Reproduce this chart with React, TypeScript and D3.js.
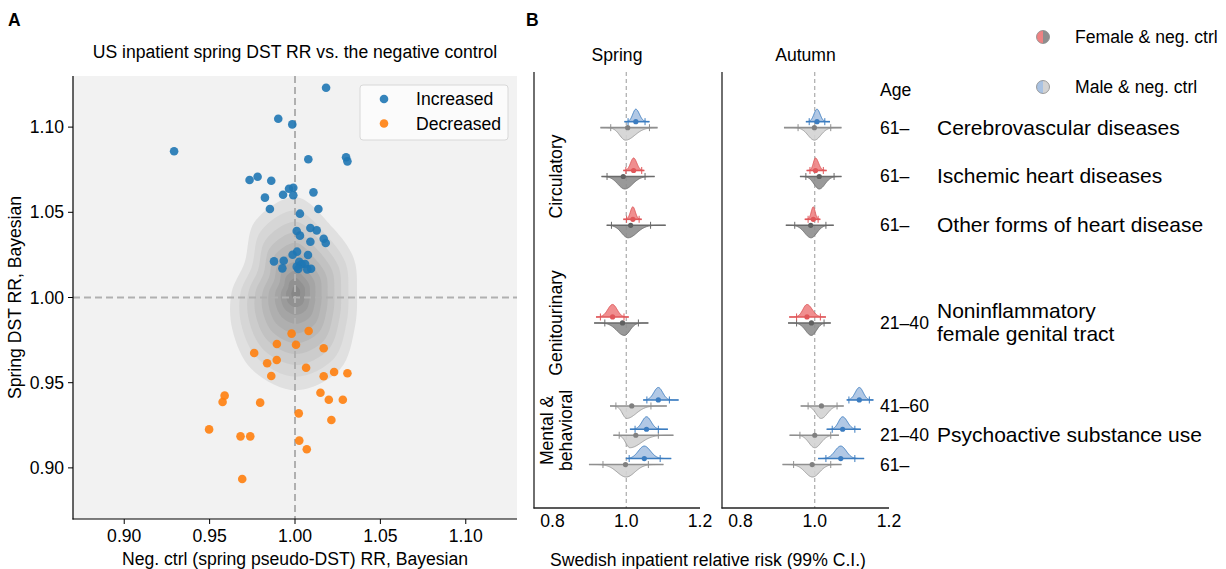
import React from 'react';
import * as d3 from 'd3';

const FONT = '"Liberation Sans", Arial, Helvetica, sans-serif';
const FS = 17.6;

// ---------- Panel A data ----------
const increasedX = [1.0182, 0.9902, 0.9984, 0.9292, 1.0078, 1.0299, 1.0307, 0.9734, 0.9781, 0.9861, 0.9965, 0.999, 0.993, 0.999, 0.9824, 1.0108, 0.9853, 1.0137, 1.0029, 1.001, 1.0029, 1.009, 1.0127, 1.009, 1.0168, 1.018, 1.0012, 0.9986, 1.0076, 0.9877, 0.9934, 0.9926, 1.0025, 1.001, 1.0039, 1.0059, 1.0019, 1.0072, 1.0094];
const increasedY = [1.1231, 1.1049, 1.1016, 1.0858, 1.0811, 1.0823, 1.0799, 1.069, 1.0709, 1.0685, 1.0638, 1.0644, 1.0603, 1.06, 1.0586, 1.0617, 1.0519, 1.0519, 1.0492, 1.039, 1.0363, 1.0408, 1.0394, 1.0327, 1.0345, 1.032, 1.0269, 1.0251, 1.0249, 1.0212, 1.0216, 1.0171, 1.021, 1.0181, 1.0195, 1.0197, 1.0167, 1.0165, 1.0169];
const decreasedX = [0.998, 1.008, 0.9894, 1.0006, 1.0168, 0.9761, 0.9837, 0.9893, 0.9861, 1.0065, 1.0168, 1.0229, 1.0307, 0.9588, 0.9576, 0.9796, 1.0149, 1.0198, 1.028, 1.0022, 1.0213, 0.9497, 0.9681, 0.9738, 1.0025, 1.0069, 0.9691];
const decreasedY = [0.9788, 0.9803, 0.9727, 0.9723, 0.9702, 0.9674, 0.9614, 0.9633, 0.9539, 0.9588, 0.9538, 0.9563, 0.9555, 0.9424, 0.9387, 0.9383, 0.9441, 0.94, 0.94, 0.932, 0.9281, 0.9226, 0.9185, 0.9185, 0.916, 0.9109, 0.8935];
const ticksA = [0.9, 0.95, 1.0, 1.05, 1.1];
const legendA = ['Increased', 'Decreased'];

// density contour outline: polar radii around a centre
const kdeCenter = [1.0005, 1.003];
const kdeAngles = [0, 30, 60, 90, 120, 150, 180, 210, 240, 270, 300, 330];
const kdeOuterRadii = [0.0358, 0.0393, 0.0436, 0.056, 0.048, 0.0347, 0.0376, 0.043, 0.052, 0.0575, 0.052, 0.04];
const kdeLevelScales = [1, 0.86, 0.74, 0.63, 0.52, 0.42, 0.32, 0.23, 0.15, 0.07];

// ---------- Panel B data ----------
const seasons = ['Spring', 'Autumn'];
const rowPos = [0, 1, 2, 4, 5.7, 6.3, 6.9];
const rowSex = ['M', 'F', 'F', 'F', 'M', 'M', 'M'];
const ageLabels = ['61–', '61–', '61–', '21–40', '41–60', '21–40', '61–'];
const diseaseLabels = [
  { pos: 0, lines: ['Cerebrovascular diseases'] },
  { pos: 1, lines: ['Ischemic heart diseases'] },
  { pos: 2, lines: ['Other forms of heart disease'] },
  { pos: 4, lines: ['Noninflammatory', 'female genital tract'] },
  { pos: 6.3, lines: ['Psychoactive substance use'] },
];
const groupLabels = [
  { pos: 1, lines: ['Circulatory'] },
  { pos: 4, lines: ['Genitourinary'] },
  { pos: 6.2, lines: ['Mental &', 'behavioral'] },
];
const ticksB = [0.8, 1.0, 1.2];
// [lineLo, ciLo, median, ciHi, lineHi, mode]
const springSex = [
  [0.995, 1.005, 1.026, 1.051, 1.063, 1.026],
  [0.992, 0.999, 1.02, 1.042, 1.049, 1.02],
  [0.992, 1.001, 1.018, 1.035, 1.042, 1.018],
  [0.918, 0.93, 0.963, 0.994, 1.007, 0.963],
  [1.046, 1.056, 1.087, 1.117, 1.142, 1.087],
  [1.01, 1.024, 1.055, 1.087, 1.113, 1.055],
  [0.999, 1.008, 1.049, 1.092, 1.122, 1.049],
];
const springCtrl = [
  [0.93, 0.958, 1.004, 1.063, 1.085, 0.998],
  [0.933, 0.948, 0.992, 1.051, 1.077, 0.996],
  [0.947, 0.96, 1.012, 1.066, 1.107, 1.005],
  [0.913, 0.942, 0.99, 1.033, 1.06, 0.995],
  [0.956, 0.972, 1.015, 1.067, 1.11, 1.001],
  [0.965, 0.981, 1.026, 1.087, 1.128, 1.01],
  [0.899, 0.937, 0.998, 1.06, 1.101, 1.0],
];
const autumnSex = [
  [0.976, 0.985, 1.006, 1.027, 1.041, 1.006],
  [0.978, 0.987, 1.002, 1.023, 1.032, 1.002],
  [0.973, 0.982, 0.996, 1.009, 1.015, 0.996],
  [0.931, 0.951, 0.979, 1.015, 1.03, 0.979],
  [1.086, 1.092, 1.12, 1.147, 1.158, 1.12],
  [1.032, 1.047, 1.075, 1.108, 1.124, 1.075],
  [1.009, 1.03, 1.07, 1.108, 1.133, 1.07],
];
const autumnCtrl = [
  [0.917, 0.955, 0.999, 1.043, 1.072, 0.999],
  [0.96, 0.976, 1.012, 1.052, 1.072, 1.012],
  [0.922, 0.946, 0.989, 1.03, 1.051, 0.99],
  [0.928, 0.951, 0.991, 1.025, 1.043, 0.991],
  [0.962, 0.982, 1.018, 1.06, 1.078, 1.017],
  [0.932, 0.96, 1.0, 1.043, 1.065, 1.0],
  [0.913, 0.943, 0.993, 1.043, 1.072, 0.994],
];
const legendB = ['Female & neg. ctrl', 'Male & neg. ctrl'];

const COL = {
  M: { fill: '#a9c2e2', stroke: '#4a86c5', line: '#3b7cc0', dot: '#3b7cc0' },
  F: { fill: '#ee8283', stroke: '#e05e60', line: '#e0575a', dot: '#e0575a' },
  ctrlM: { fill: '#d3d3d3', stroke: '#a3a3a3', line: '#8f8f8f', dot: '#808080' },
  ctrlF: { fill: '#8e8e8e', stroke: '#747474', line: '#6a6a6a', dot: '#606060' },
};

function Ridge({ x, t, baseY, dir, c }: any) {
  const [lo, ciLo, mid, ciHi, hi, mode] = t;
  const sdL = Math.max((mode - ciLo) / 2.576, 0.004);
  const sdR = Math.max((ciHi - mode) / 2.576, 0.004);
  const H = 12.5;
  const vals = d3.range(0, 81).map((i) => lo + ((hi - lo) * i) / 80);
  const dens = (v: number) => {
    const z = v < mode ? (v - mode) / sdL : (v - mode) / sdR;
    return Math.exp(-0.5 * z * z);
  };
  const area = d3
    .area<number>()
    .x((v) => x(v))
    .y0(baseY)
    .y1((v) => baseY + dir * H * dens(v))
    .curve(d3.curveBasis);
  const top = d3
    .line<number>()
    .x((v) => x(v))
    .y((v) => baseY + dir * H * dens(v))
    .curve(d3.curveBasis);
  return (
    <g>
      <path d={area(vals) || ''} fill={c.fill} fillOpacity={0.9} />
      <path d={top(vals) || ''} fill="none" stroke={c.stroke} strokeWidth={1} />
      <line x1={x(lo)} x2={x(hi)} y1={baseY} y2={baseY} stroke={c.line} strokeWidth={1.6} />
      {[ciLo, ciHi].map((v, i) => (
        <line key={i} x1={x(v)} x2={x(v)} y1={baseY - 3.5} y2={baseY + 3.5} stroke={c.line} strokeWidth={1} />
      ))}
      <circle cx={x(mid)} cy={baseY} r={2.6} fill={c.dot} />
    </g>
  );
}

export default function App() {
  // Panel A scales
  const xA = d3.scaleLinear().domain([0.87, 1.13]).range([73, 517]);
  const yA = d3.scaleLinear().domain([0.87, 1.13]).range([519, 76]);
  const blue = '#1f77b4';
  const orange = '#ff7f0e';
  const kdeColor = d3.interpolateRgb('#e0e0e0', '#878787');
  const contourLine = d3
    .line<[number, number]>()
    .x((d) => d[0])
    .y((d) => d[1])
    .curve(d3.curveCatmullRomClosed.alpha(0.5));

  // Panel B scales
  const yB = d3.scaleLinear().domain([-1.14, 7.79]).range([72, 508]);
  const xBs = [
    d3.scaleLinear().domain([0.75, 1.2]).range([534, 700]),
    d3.scaleLinear().domain([0.75, 1.2]).range([722, 889]),
  ];
  const dataB = [
    [springSex, springCtrl],
    [autumnSex, autumnCtrl],
  ];

  return (
    <svg
      width={1226}
      height={569}
      style={{ position: 'absolute', left: 0, top: 0, background: '#fff' }}
      fontFamily={FONT}
    >
      {/* Panel letters */}
      <text x={8} y={26} fontSize={17.5} fontWeight="bold">A</text>
      <text x={526} y={26} fontSize={17.5} fontWeight="bold">B</text>

      {/* ---------- Panel A ---------- */}
      <text x={295} y={58} fontSize={FS} textAnchor="middle">
        US inpatient spring DST RR vs. the negative control
      </text>
      <rect x={73} y={76} width={444} height={443} fill="#f2f2f2" />
      {kdeLevelScales.map((s, i) => {
        const pts: [number, number][] = kdeAngles.map((a, k) => {
          const r = kdeOuterRadii[k] * s;
          const th = (a * Math.PI) / 180;
          return [xA(kdeCenter[0] + r * Math.cos(th)), yA(kdeCenter[1] + r * Math.sin(th))];
        });
        return <path key={i} d={contourLine(pts) || ''} fill={kdeColor(i / (kdeLevelScales.length - 1))} />;
      })}
      <line x1={xA(1)} x2={xA(1)} y1={76} y2={519} stroke="#b0b0b0" strokeWidth={2} strokeDasharray="7,4" />
      <line x1={73} x2={517} y1={yA(1)} y2={yA(1)} stroke="#b0b0b0" strokeWidth={2} strokeDasharray="7,4" />
      {increasedX.map((v, i) => (
        <circle key={'i' + i} cx={xA(v)} cy={yA(increasedY[i])} r={4.3} fill={blue} fillOpacity={0.9} />
      ))}
      {decreasedX.map((v, i) => (
        <circle key={'d' + i} cx={xA(v)} cy={yA(decreasedY[i])} r={4.3} fill={orange} fillOpacity={0.9} />
      ))}
      {/* spines */}
      <line x1={73} x2={73} y1={76} y2={519.5} stroke="#000" strokeWidth={1.2} />
      <line x1={72.5} x2={517} y1={519} y2={519} stroke="#000" strokeWidth={1.2} />
      {ticksA.map((t) => (
        <g key={'tx' + t}>
          <line x1={xA(t)} x2={xA(t)} y1={519} y2={524} stroke="#000" strokeWidth={1} />
          <text x={xA(t)} y={542} fontSize={FS} textAnchor="middle">{t.toFixed(2)}</text>
          <line x1={68} x2={73} y1={yA(t)} y2={yA(t)} stroke="#000" strokeWidth={1} />
          <text x={64} y={yA(t) + 6} fontSize={FS} textAnchor="end">{t.toFixed(2)}</text>
        </g>
      ))}
      <text x={295} y={565} fontSize={FS} textAnchor="middle">Neg. ctrl (spring pseudo-DST) RR, Bayesian</text>
      <text transform={`translate(21,${yA(1)}) rotate(-90)`} fontSize={FS} textAnchor="middle">
        Spring DST RR, Bayesian
      </text>
      {/* legend A */}
      <rect x={360} y={85} width={148} height={55} rx={3} fill="#fbfbfb" stroke="#d8d8d8" strokeWidth={1} />
      {legendA.map((l, i) => (
        <g key={l}>
          <circle cx={384} cy={99 + i * 24.5} r={4.3} fill={i === 0 ? blue : orange} fillOpacity={0.9} />
          <text x={416} y={105 + i * 24.5} fontSize={FS}>{l}</text>
        </g>
      ))}

      {/* ---------- Panel B ---------- */}
      {xBs.map((x, si) => {
        const [sexD, ctrlD] = dataB[si];
        const r0 = x.range();
        return (
          <g key={si}>
            <text x={(r0[0] + r0[1]) / 2} y={61} fontSize={FS} textAnchor="middle">{seasons[si]}</text>
            <line x1={x(1)} x2={x(1)} y1={72} y2={508} stroke="#999" strokeWidth={1} strokeDasharray="4,3" />
            {rowPos.map((p, ri) => {
              const sex = rowSex[ri];
              const cSex = COL[sex as 'M' | 'F'];
              const cCtrl = sex === 'M' ? COL.ctrlM : COL.ctrlF;
              const yg = yB(p);
              return (
                <g key={ri}>
                  <Ridge x={x} t={ctrlD[ri]} baseY={yg} dir={1} c={cCtrl} />
                  <Ridge x={x} t={sexD[ri]} baseY={yg - 6} dir={-1} c={cSex} />
                </g>
              );
            })}
            <line x1={r0[0]} x2={r0[0]} y1={72} y2={508.5} stroke="#222" strokeWidth={1.3} />
            <line x1={r0[0] - 0.5} x2={r0[1]} y1={508} y2={508} stroke="#222" strokeWidth={1.3} />
            {ticksB.map((t) => (
              <text key={t} x={x(t)} y={527} fontSize={FS} textAnchor="middle">{t.toFixed(1)}</text>
            ))}
          </g>
        );
      })}
      {groupLabels.map((g) => (
        <text
          key={g.lines[0]}
          transform={`translate(${g.lines.length === 1 ? 562 : 553},${yB(g.pos)}) rotate(-90)`}
          fontSize={FS}
          textAnchor="middle"
        >
          {g.lines.map((l, i) => (
            <tspan key={i} x={0} dy={i === 0 ? 0 : 18.5}>{l}</tspan>
          ))}
        </text>
      ))}
      <text x={880} y={96} fontSize={FS}>Age</text>
      {rowPos.map((p, i) => (
        <text key={'age' + i} x={880} y={yB(p) + 6} fontSize={FS}>{ageLabels[i]}</text>
      ))}
      {diseaseLabels.map((d) => (
        <text key={d.lines[0]} x={937} y={yB(d.pos) + 7 - (d.lines.length - 1) * 11.5} fontSize={21}>
          {d.lines.map((l, i) => (
            <tspan key={i} x={937} dy={i === 0 ? 0 : 23}>{l}</tspan>
          ))}
        </text>
      ))}
      <text x={708} y={566} fontSize={FS} textAnchor="middle">Swedish inpatient relative risk (99% C.I.)</text>
      {/* legend B */}
      {legendB.map((l, i) => {
        const cx = 1043;
        const cy = 37 + i * 50;
        const r = 6.5;
        const left = i === 0 ? COL.F.fill : COL.M.fill;
        const right = i === 0 ? COL.ctrlF.fill : COL.ctrlM.fill;
        return (
          <g key={l}>
            <path d={`M${cx},${cy - r}A${r},${r} 0 0 0 ${cx},${cy + r}Z`} fill={left} />
            <path d={`M${cx},${cy - r}A${r},${r} 0 0 1 ${cx},${cy + r}Z`} fill={right} />
            <circle cx={cx} cy={cy} r={r} fill="none" stroke="#888" strokeWidth={0.8} />
            <text x={1075} y={cy + 6} fontSize={FS}>{l}</text>
          </g>
        );
      })}
    </svg>
  );
}
